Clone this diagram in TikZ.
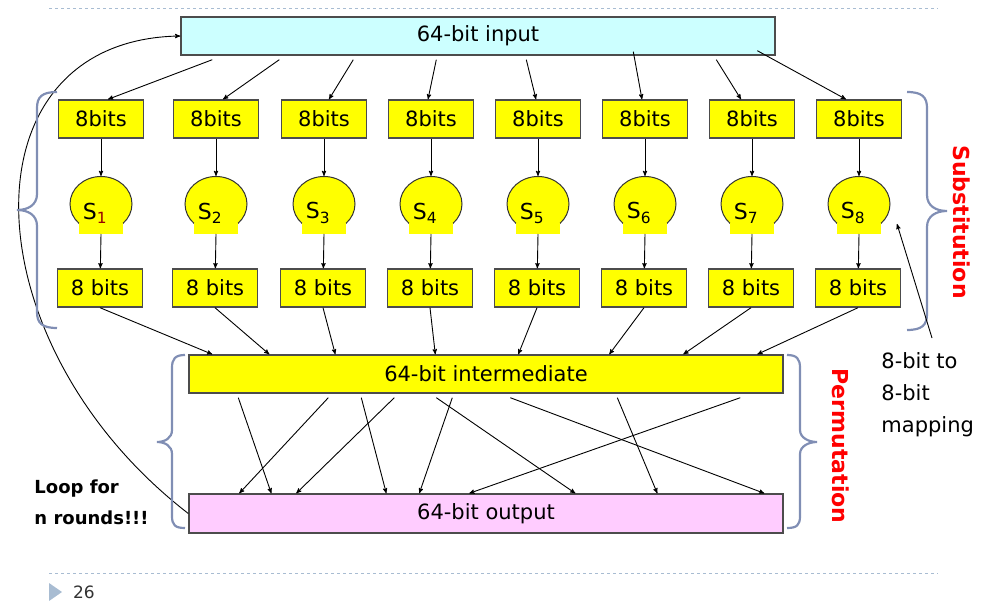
\documentclass[tikz,border=0pt]{standalone}
\usepackage{fontspec}
\setmainfont{DejaVu Sans}
\usepackage{xcolor}
\usetikzlibrary{arrows,shapes.geometric}
\definecolor{boxyellow}{RGB}{255,255,0}
\definecolor{incyan}{RGB}{204,255,255}
\definecolor{outpink}{RGB}{255,204,255}
\definecolor{bracegray}{RGB}{128,142,180}
\definecolor{rulegray}{RGB}{168,188,210}
\definecolor{subred}{RGB}{150,0,0}

\begin{document}
\begin{tikzpicture}[x=1pt,y=-1pt,->,>=stealth',line width=0.9pt]
\tikzstyle{bits}=[rectangle,draw=black!70,line width=1.4pt,fill=boxyellow,minimum width=85pt,minimum height=38pt,inner sep=0pt,font=\fontsize{21}{25}\selectfont]
\tikzstyle{bigbox}=[rectangle,draw=black!70,line width=1.4pt,minimum width=594pt,minimum height=38pt,inner sep=0pt,font=\fontsize{21}{25}\selectfont]
\tikzstyle{sbox}=[ellipse,draw=black!80,line width=1pt,fill=boxyellow,minimum width=62pt,minimum height=55pt,inner sep=0pt]
\tikzstyle{slabel}=[inner sep=0pt,font=\fontsize{22}{26}\selectfont]
\tikzstyle{sidelabel}=[inner sep=0pt,text=red,font=\fontsize{22}{26}\selectfont\bfseries]
\tikzstyle{bracestyle}=[-,draw=bracegray,line width=2.2pt]
\useasboundingbox (0,0) rectangle (987,601);

% slide frame
\draw[-,rulegray,dashed,line width=1pt] (49,9) -- (938,9);
\draw[-,rulegray,dashed,line width=1pt] (49,573) -- (938,573);
\fill[rulegray] (49,583) -- (62,592) -- (49,601) -- cycle;
\node[inner sep=0pt,text=black!80,font=\fontsize{17}{20}\selectfont] (pg) at (84,592) {26};

% 64-bit blocks
\node[bigbox,fill=incyan]    (inp)  at (478,36)    {64-bit input};
\node[bigbox,fill=boxyellow] (mid)  at (486,374)   {64-bit intermediate};
\node[bigbox,fill=outpink,minimum height=39pt] (outp) at (486,513.5) {64-bit output};

% the eight S-boxes
\foreach \i/\x in {1/101,2/216,3/324,4/431,5/538,6/645,7/752,8/859} {
  \node[bits] (t\i) at (\x,119) {8bits};
  \node[sbox] (s\i) at (\x,204) {};
  \fill[boxyellow] ([shift={(-22,19)}]s\i.center) rectangle ++(44,11);
  \node[bits] (b\i) at (\x-1,288) {8 bits};
  \draw (t\i) -- (s\i);
  \draw ([shift={(0,30)}]s\i.center) -- (b\i);
}
\node[slabel] (l1) at ([shift={(-6,9)}]s1.center) {S\textsubscript{\textcolor{subred}{1}}};
\foreach \i in {2,...,8}
  \node[slabel] (l\i) at ([shift={(-6,9)}]s\i.center) {S\textsubscript{\i}};

% input splits into bytes
\foreach \i/\s/\d/\e in {1/32/4/7,2/99/4/7,3/173/4/5,4/256/4/-3,5/346/4/-2,6/453/-4/-3,7/536/4/-11,8/577/-5/-13}
  \draw ([shift={(\s,\d)}]inp.south west) -- ([xshift=\e pt]t\i.north);

% bytes collected again
\foreach \i/\e in {1/24,2/81,3/147,4/247,5/330,6/421,7/495,8/569}
  \draw (b\i.south) -- ([xshift=\e pt]mid.north west);

% permutation wires
\foreach \s/\e in {50/83,140/51,173/198,206/108,264/231,248/387,322/576,429/469,552/281}
  \draw ([shift={(\s,4)}]mid.south west) -- ([xshift=\e pt]outp.north west);

% round loop
\draw (outp.west) .. controls +(-220,-170) and +(-221,4) .. (inp.west);
\node[inner sep=0pt,align=left,anchor=west,font=\fontsize{18}{31}\selectfont\bfseries] (loop) at (34,502) {Loop for\\n rounds!!!};

% braces and labels
\draw[bracestyle] (57,92) .. controls (42,92) and (37,97) .. (37,108) -- (37,194)
  .. controls (37,205) and (28,210) .. (17,210) .. controls (28,210) and (37,215) .. (37,226)
  -- (37,312) .. controls (37,323) and (42,328) .. (57,328);
\draw[bracestyle] (907,92) .. controls (922,92) and (927,97) .. (927,108) -- (927,195)
  .. controls (927,206) and (936,211) .. (947,211) .. controls (936,211) and (927,216) .. (927,227)
  -- (927,314) .. controls (927,325) and (922,330) .. (907,330);
\draw[bracestyle] (185,355) .. controls (175,355) and (172,359) .. (172,368) -- (172,430)
  .. controls (172,438) and (165,442) .. (157,442) .. controls (165,442) and (172,446) .. (172,454)
  -- (172,516) .. controls (172,525) and (175,528) .. (185,528);
\draw[bracestyle] (787,355) .. controls (797,355) and (800,359) .. (800,368) -- (800,430)
  .. controls (800,438) and (809,442) .. (817,442) .. controls (809,442) and (800,446) .. (800,454)
  -- (800,516) .. controls (800,525) and (797,528) .. (787,528);
\node[sidelabel,rotate=-90] (subs) at (962,222) {Substitution};
\node[sidelabel,rotate=-90] (perm) at (841,446) {Permutation};

\node[inner sep=0pt,align=left,anchor=north west,font=\fontsize{21}{32}\selectfont] (map) at (881,352) {8-bit to\\8-bit\\mapping};
\draw ([shift={(51,-14)}]map.north west) -- ([shift={(38,20)}]s8.center);
\end{tikzpicture}
\end{document}
